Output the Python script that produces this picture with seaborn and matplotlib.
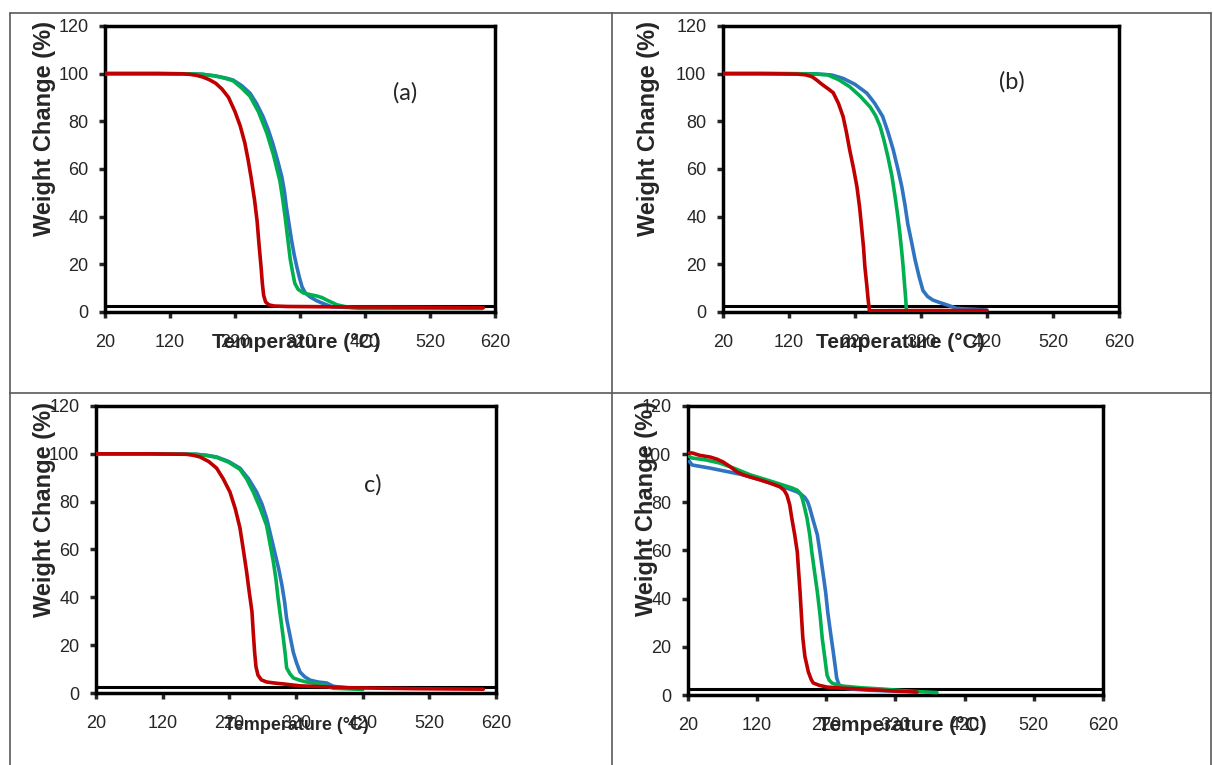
import matplotlib
matplotlib.use("Agg")
import matplotlib.pyplot as plt
from matplotlib.lines import Line2D
import seaborn as sns

# TGA curves (temperature in C, weight in %)
# panel (a)
blue_a_x = [20, 100, 150, 170, 190, 205, 217, 230, 243, 253, 263, 271, 278, 285, 292, 296, 299, 303, 307, 311,
            315, 319, 323, 328, 335, 345, 355, 369, 400, 500, 600]
blue_a_y = [100, 100, 99.9, 99.7, 99, 98.2, 97.3, 95, 91.8, 87.5, 82, 76.5, 70.7, 64, 56.7, 50.5, 44, 37, 30, 24,
            19, 14.5, 10.6, 8, 6.4, 4.8, 3.6, 2.2, 1.8, 1.6, 1.5]
green_a_x = [20, 100, 150, 170, 190, 205, 217, 230, 243, 256, 269, 279, 289, 293, 297, 301, 305, 309, 312, 317,
             325, 335, 346, 354, 361, 369, 377, 390, 412, 500, 600]
green_a_y = [100, 100, 99.9, 99.7, 99, 98, 97, 94, 90.5, 84, 75, 66, 55, 48, 40, 31, 22, 16, 12, 9.5,
             8, 7.3, 6.7, 6, 5, 4, 3, 2.2, 1.5, 1.5, 1.5]
red_a_x = [20, 100, 140, 150, 160, 170, 180, 190, 200, 210, 220, 228, 235, 240, 245, 250, 254, 257, 260, 262,
           264, 267, 272, 280, 300, 400, 500, 602]
red_a_y = [100, 100, 99.9, 99.7, 99.3, 98.6, 97.5, 96, 93.5, 90, 84, 78, 71, 64, 56, 47, 38, 28, 19, 12,
           7, 4.2, 3, 2.5, 2.3, 2.1, 2, 1.8]

# panel (b)
blue_b_x = [20, 100, 160, 185, 202, 220, 238, 250, 262, 270, 278, 285, 291, 296, 300, 306, 311, 317, 323, 330,
            338, 348, 359, 374, 420]
blue_b_y = [100, 100, 99.9, 99.4, 98, 95.5, 91.8, 87.5, 82, 75.5, 68, 60, 52.5, 44.5, 37, 29, 22, 15, 9, 6.5,
            5, 4, 3, 1.5, 0.8]
green_b_x = [20, 100, 150, 165, 178, 195, 212, 228, 243, 251, 258, 264, 270, 276, 281, 285, 288, 291, 293, 295,
             297, 298]
green_b_y = [100, 100, 99.9, 99.7, 99.5, 97.5, 94.5, 90.5, 86, 82.5, 78, 72, 65, 57, 48, 40, 33, 25, 19, 12,
             5, 0.5]
red_b_x = [20, 80, 132, 145, 155, 162, 170, 180, 187, 195, 202, 207, 212, 218, 223, 227, 230, 233, 235, 238,
           240, 242, 330, 420]
red_b_y = [100, 100, 99.8, 99.5, 98.7, 97.3, 95.5, 93.5, 92, 87.5, 82, 75.5, 68, 60, 52.5, 44, 35.7, 27, 19, 11,
           5, 0.5, 0.6, 0.6]

# panel (c)
blue_c_x = [20, 100, 170, 186, 201, 219, 236, 249, 261, 269, 276, 282, 288, 294, 299, 303, 306, 311, 316, 321,
            326, 333, 341, 353, 366, 376, 420]
blue_c_y = [100, 100, 99.8, 99.4, 98.7, 96.8, 94, 89.5, 84, 79, 73, 66, 59, 52, 45, 38, 31, 24, 17, 12.5,
            8.8, 6.8, 5.4, 4.6, 4.2, 2.8, 1.5]
green_c_x = [20, 100, 170, 186, 201, 219, 236, 246, 256, 266, 276, 281, 286, 290, 293, 297, 301, 304, 306, 311,
             316, 326, 336, 348, 361, 376, 420]
green_c_y = [100, 100, 99.8, 99.3, 98.5, 96.5, 93.5, 89.5, 84, 77.5, 70, 62.5, 55, 47.5, 40, 31.5, 23, 16, 10.5, 8,
             6.3, 5.3, 4.6, 4, 3.3, 2, 1.5]
red_c_x = [20, 100, 156, 166, 176, 189, 201, 211, 221, 229, 236, 241, 246, 250, 254, 256, 258, 260, 263, 268,
           276, 290, 301, 326, 400, 500, 601]
red_c_y = [100, 100, 99.8, 99.4, 98.7, 96.8, 94, 89.5, 84, 77, 69, 60, 50.6, 42, 34, 25, 17, 11, 7.5, 5.5,
           4.6, 4.1, 3.8, 3, 2.2, 1.8, 1.6]

# panel (d)
blue_d_x = [22, 26, 52, 76, 100, 124, 149, 165, 178, 184, 189, 193, 196, 201, 207, 211, 215, 219, 222, 226,
            230, 233, 235, 238, 240, 260, 280, 330]
blue_d_y = [97, 95.5, 94.2, 92.8, 91.4, 89.4, 87.2, 85.7, 84.3, 83.2, 82, 80.2, 77.7, 72.5, 66.5, 59, 51, 42.7, 34.5, 26,
            17.9, 11.5, 7, 4.5, 3, 2.4, 2, 1.5]
green_d_x = [22, 26, 46, 66, 88, 110, 134, 157, 170, 178, 182, 185, 188, 192, 196, 199, 203, 207, 211, 214,
             218, 221, 224, 228, 236, 244, 270, 300, 340, 380]
green_d_y = [99, 98.4, 97.6, 96.3, 94, 91.4, 89.3, 87.2, 86, 85, 83.8, 81.8, 78.5, 73.5, 66.5, 59.4, 51, 42.8, 33, 23.7,
             15, 8.3, 6.2, 5, 4.2, 3.7, 3, 2.5, 1.6, 1]
red_d_x = [22, 26, 37, 52, 62, 71, 81, 91, 100, 110, 122, 134, 144, 153, 159, 163, 167, 170, 174, 178,
           180, 182, 184, 186, 189, 194, 198, 201, 210, 221, 245, 269, 310, 351]
red_d_y = [100.5, 100.5, 99.5, 98.8, 97.9, 96.7, 94.8, 92.6, 91.4, 90.5, 89.5, 88.4, 87.4, 86.4, 85, 83, 79, 73.5, 67, 59.4,
           51, 42.8, 33, 23.7, 16, 9.6, 6.5, 5, 4, 3.3, 2.8, 2.5, 1.8, 1.2]

x_ticks = [20, 120, 220, 320, 420, 520, 620]
y_ticks = [0, 20, 40, 60, 80, 100, 120]
panel_tags = ["(a)", "(b)", "c)", None]

sns.set_style("white")
plt.rcParams['font.family'] = ['Liberation Sans', 'DejaVu Sans']

BLUE = "#2F74C0"
GREEN = "#00B050"
RED = "#C00000"

fig = plt.figure(figsize=(12.13, 7.65), dpi=100)

# axes rectangles, label positions and tag positions for each panel
panels = [
    dict(rect=[0.0866, 0.5922, 0.3215, 0.3739],
         curves=[(blue_a_x, blue_a_y), (green_a_x, green_a_y), (red_a_x, red_a_y)],
         ylab=(-0.154, 0.64), xlab=(0.49, -0.108), xsize=15, tag=(481, 92)),
    dict(rect=[0.5960, 0.5922, 0.3265, 0.3739],
         curves=[(blue_b_x, blue_b_y), (green_b_x, green_b_y), (red_b_x, red_b_y)],
         ylab=(-0.189, 0.64), xlab=(0.449, -0.108), xsize=15, tag=(458, 96.5)),
    dict(rect=[0.0791, 0.0941, 0.3298, 0.3752],
         curves=[(blue_c_x, blue_c_y), (green_c_x, green_c_y), (red_c_x, red_c_y)],
         ylab=(-0.1275, 0.641), xlab=(0.5, -0.1115), xsize=13, tag=(435, 87)),
    dict(rect=[0.5672, 0.0915, 0.3421, 0.3778],
         curves=[(blue_d_x, blue_d_y), (green_d_x, green_d_y), (red_d_x, red_d_y)],
         ylab=(-0.099, 0.647), xlab=(0.516, -0.104), xsize=15, tag=None),
]

for p, tag in zip(panels, panel_tags):
    ax = fig.add_axes(p["rect"])
    for (xs, ys), col in zip(p["curves"], [BLUE, GREEN, RED]):
        sns.lineplot(x=xs, y=ys, ax=ax, color=col, linewidth=2.6, estimator=None, zorder=3)
    # plot-area border sits a little above the x axis line
    ax.axhline(2.5, color="black", linewidth=2.2, zorder=2)
    ax.set_xlim(20, 620)
    ax.set_ylim(0, 120)
    ax.set_xticks(x_ticks)
    ax.set_yticks(y_ticks)
    for s in ax.spines.values():
        s.set_linewidth(2.5)
        s.set_color("black")
    ax.tick_params(axis="x", direction="out", length=4, width=2.5, pad=12, labelsize=13, bottom=True)
    ax.tick_params(axis="y", direction="out", length=4, width=2.5, pad=8, labelsize=13, left=True)
    ax.set_xlabel("Temperature (°C)", fontsize=p["xsize"], fontweight="bold")
    ax.set_ylabel("Weight Change (%)", fontsize=17, fontweight="bold")
    ax.xaxis.label.set_va("center")
    ax.yaxis.label.set_va("center")
    ax.xaxis.set_label_coords(*p["xlab"])
    ax.yaxis.set_label_coords(*p["ylab"])
    if tag:
        ax.text(p["tag"][0], p["tag"][1], tag, fontsize=17, family=["Lato", "DejaVu Sans"],
                ha="center", va="center")

# table borders around the four panels
grey = "#5a5a5a"
for xs, ys in [([0.0082, 0.9984], [0.983, 0.983]),
               ([0.0082, 0.9984], [0.4863, 0.4863]),
               ([0.0082, 0.0082], [0.0, 0.983]),
               ([0.5045, 0.5045], [0.0, 0.983]),
               ([0.9984, 0.9984], [0.0, 0.983])]:
    fig.add_artist(Line2D(xs, ys, color=grey, linewidth=1.2, transform=fig.transFigure))

plt.savefig("out.png", dpi=100)
